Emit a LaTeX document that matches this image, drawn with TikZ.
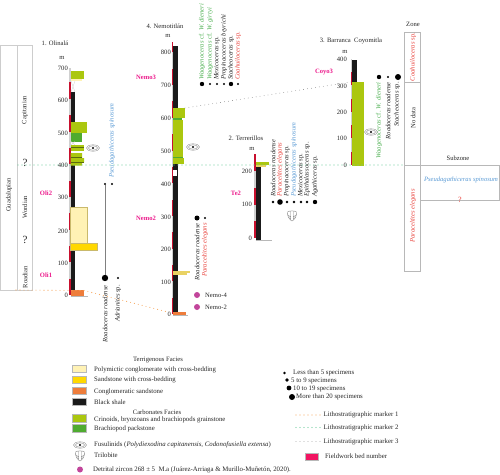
\documentclass[tikz,border=0pt]{standalone}
\usepackage{fontspec}
\setmainfont{Liberation Serif}
\definecolor{olivef}{HTML}{ABC70F}
\definecolor{greenf}{HTML}{4FAB30}
\definecolor{palef}{HTML}{FFF2B5}
\definecolor{yellowf}{HTML}{FFD800}
\definecolor{goldf}{HTML}{E9D263}
\definecolor{orangef}{HTML}{EE7D3B}
\definecolor{blackf}{HTML}{1A1A1A}
\definecolor{redbar}{HTML}{C8102E}
\definecolor{greybar}{HTML}{D0D0D0}
\definecolor{pinkf}{HTML}{EC1C8C}
\definecolor{purplef}{HTML}{C2459B}
\definecolor{bluef}{HTML}{5B9BD5}
\definecolor{greent}{HTML}{4CAF50}
\definecolor{redt}{HTML}{E8403A}
\definecolor{frameg}{HTML}{B8B8B8}
\definecolor{txt}{HTML}{262626}
\definecolor{stripe}{HTML}{5A6A10}
\definecolor{mkone}{HTML}{F6A860}
\definecolor{mktwo}{HTML}{6CCB9C}
\definecolor{mkthree}{HTML}{7A7A7A}
\tikzset{
 lab/.style={inner sep=0pt,font=\fontsize{6.6}{7}\selectfont,text=txt},
 leg/.style={lab,anchor=west,font=\fontsize{6.8}{8}\selectfont},
 tick/.style={lab,anchor=east},
 bed/.style={inner sep=0pt,font=\fontsize{6.6}{7}\selectfont\bfseries,text=pinkf},
 vup/.style={lab,rotate=90,anchor=west,font=\fontsize{6.6}{7}\selectfont\itshape},
 vdn/.style={lab,rotate=90,anchor=east,font=\fontsize{6.6}{7}\selectfont\itshape},
 vmid/.style={lab,rotate=90,anchor=center},
 frame/.style={draw=frameg,line width=.6pt},
 swatch/.style={draw=frameg,line width=.4pt},
 dotm/.style={circle,fill=black,inner sep=0pt},
 zircon/.style={circle,fill=purplef,inner sep=0pt,minimum size=6pt},
 mk1/.style={draw=mkone,line width=1.1pt,line cap=round,dash pattern=on 0pt off 4pt},
 mk2/.style={draw=mktwo,line width=1.1pt,line cap=round,dash pattern=on 0pt off 4pt},
 mk3/.style={draw=mkthree,line width=.8pt,line cap=round,dash pattern=on 0pt off 4pt},
 fusu/.pic={
  \draw[gray,line width=.35pt] (0,0) ellipse (6.5pt and 3.2pt);
  \draw[gray,line width=.35pt] (0,0) ellipse (4.5pt and 2.2pt);
  \fill[black] (0,0) circle (1.1pt);},
 trilo/.pic={
  \draw[gray,line width=.35pt,fill=white] (-4.5,-3) .. controls (-5,2) and (-2,5) .. (0,6) .. controls (2,5) and (5,2) .. (4.5,-3) .. controls (2.5,-4.5) and (-2.5,-4.5) .. (-4.5,-3) -- cycle;
  \draw[gray,line width=.35pt] (-1.3,-4) -- (-1.3,5) (1.3,-4) -- (1.3,5) (-4,0) -- (-1.3,2) (4,0) -- (1.3,2) (-3.5,2.5) -- (-1.3,3.5) (3.5,2.5) -- (1.3,3.5);},
}
% scale bar: x, y of 0 m, px per 100 m, top y
\newcommand{\scalebar}[4]{%
 \fill[greybar] (#1,#2) rectangle (#1+1.6,#4);
 \foreach \k in {0,1,...,8}{
  \pgfmathsetmacro{\ya}{#2-\k*#3}
  \pgfmathsetmacro{\yb}{max(#2-(\k+.5)*#3,#4)}
  \ifdim \ya pt>#4 pt \fill[redbar] (#1,\ya) rectangle (#1+1.6,\yb);\fi
 }}
\begin{document}
\begin{tikzpicture}[x=1pt,y=-1pt]
\useasboundingbox (0,0) rectangle (500,474);

% ---------- chronostratigraphic table
\draw[frame,draw=frameg!70] (0,45) rectangle (17,290);
\draw[frame,draw=frameg!70] (17,45) rectangle (32,290);
\node[vmid] (tGuad) at (9,195) {Guadalupian};
\node[vmid] (tCap) at (25,110) {Capitanian};
\node[vmid] (tWord) at (25,207) {Wordian};
\node[vmid] (tRoad) at (25,277) {Roadian};
\node[lab,font=\fontsize{11}{12}\selectfont] (tq1) at (25,163) {?};
\node[lab,font=\fontsize{11}{12}\selectfont] (tq2) at (25,240) {?};

% ---------- 1. Olinala
\node[lab] (t1) at (55,43) {1. Olinalá};
\node[lab] (m1) at (62,58) {m};
\scalebar{69}{295}{32.7}{68}
\fill[blackf] (70.6,92) rectangle (75,290);
\draw[greybar,line width=.3pt] (71,81) -- (75,92) (75,81) -- (71,92);
\fill[olivef] (70.6,71) rectangle (84,79);
\fill[palef] (70.6,79) rectangle (82,81);
\fill[olivef] (70.6,122) rectangle (86.5,133);
\fill[greenf] (70.6,133) rectangle (82,141.5);
\fill[white] (70.6,141.5) rectangle (82,145);
\draw[greybar,line width=.3pt] (71,141.5) -- (75,145) (75,141.5) -- (71,145);
\fill[olivef] (70.6,145) rectangle (84,151);
\fill[white] (70.6,151) rectangle (84,153);
\fill[olivef] (70.6,153) rectangle (82,158) (70.6,158) rectangle (84,162) (70.6,162) rectangle (82,165.5);
\draw[stripe,line width=.4pt] (70.6,147.5) -- (84,147.5) (70.6,157.5) -- (82,157.5) (70.6,162) -- (84,162);
\filldraw[fill=palef,draw=goldf!70!gray,line width=.4pt] (70.6,207) rectangle (87,243);
\filldraw[fill=yellowf,draw=goldf!70!gray,line width=.4pt] (70.6,243) rectangle (97,250);
\fill[orangef] (70.6,290) rectangle (84,296);
\draw[frameg,line width=.7pt] (70.6,296.5) -- (88,296.5);
\foreach \v/\y in {700/68,600/100,500/133,400/165,300/197,200/231,100/263,0/295}
 \node[tick] (a\v) at (68,\y) {\v};
\node[bed] (oli2) at (46,193) {Oli2};
\node[bed] (oli1) at (46,275) {Oli1};
\pic at (93,148) {fusu};
\node[dotm,minimum size=2.4pt] (d1a) at (105,184) {};
\node[dotm,minimum size=2.4pt] (d1b) at (112,184) {};
\node[dotm,minimum size=6.4pt] (d1c) at (105,278) {};
\node[dotm,minimum size=2.4pt] (d1d) at (118,278) {};
\draw[gray,line width=.7pt] (d1a) -- (d1c);
\node[vdn] (s1a) at (105,285) {Roadoceras roadense};
\node[vdn] (s1b) at (118,285) {Adrianites \textup{sp.}};
\node[vup,text=bluef] (s1c) at (112,178) {Pseudagathiceras spinosum};

% ---------- 4. Nemotitlan
\node[lab] (t4) at (165,26) {4. Nemotitlán};
\node[lab] (m4) at (168,36) {m};
\scalebar{171.6}{314}{32.7}{42}
\fill[blackf] (173.2,46) rectangle (177.5,314);
\fill[olivef] (173.2,108) rectangle (185,118);
\fill[greenf] (173.2,118) rectangle (182,120);
\fill[olivef] (173.2,120) rectangle (183,157);
\fill[greenf] (173.2,157) rectangle (183,158);
\fill[olivef] (173.2,158) rectangle (184,164);
\fill[white] (173.4,170) rectangle (177.3,176);
\fill[goldf] (173.2,271) rectangle (190,273);
\fill[goldf] (173.2,273) rectangle (187,275);
\fill[orangef] (173.2,312) rectangle (186,315);
\draw[frameg,line width=.7pt] (173.2,315.5) -- (188,315.5);
\foreach \v/\y in {800/52,700/85,600/118,500/151,400/184,300/217,200/249,100/282,0/314}
 \node[tick] (b\v) at (171,\y) {\v};
\node[bed] (nemo3) at (146,77) {Nemo3};
\node[bed] (nemo2) at (146,218) {Nemo2};
\pic at (193,147) {fusu};
\foreach \n/\x/\s in {a/202/4.4,b/210/2.4,c/217/2.4,d/224/2.4,e/231/4.4,f/238/2.4}
 \node[dotm,minimum size=\s pt] (d4\n) at (\x,84) {};
\node[vup,text=greent] (s4a) at (202,80) {Waagenoceras \textup{cf.} W. dieneri};
\node[vup,text=greent] (s4b) at (210,80) {Waagenoceras \textup{cf.} W. girtyi};
\node[vup] (s4c) at (217,80) {Mexicoceras \textup{sp.}};
\node[vup] (s4d) at (224,80) {Propinacoceras beyrichi};
\node[vup] (s4e) at (231,80) {Stacheoceras \textup{sp.}};
\node[vup,text=redt] (s4f) at (238,80) {Coahuiloceras \textup{sp.}};
\node[dotm,minimum size=5pt] (d4g) at (197,218) {};
\node[dotm,minimum size=2.4pt] (d4h) at (205,218) {};
\node[vdn] (s4g) at (197,223) {Roadoceras roadense};
\node[vdn,text=redt] (s4h) at (205,223) {Paraceltites elegans};
\node[zircon] (z4) at (197,295) {};
\node[zircon] (z2) at (197,307) {};
\node[lab,anchor=west] (z4t) at (205,295) {Nemo-4};
\node[lab,anchor=west] (z2t) at (205,307) {Nemo-2};

% ---------- 2. Terrerillos
\node[lab] (t2) at (246,138) {2. Terrerillos};
\node[lab] (m2) at (252,149) {m};
\scalebar{254}{238}{33.5}{154}
\fill[blackf] (255.6,167) rectangle (261,240);
\fill[olivef] (255.6,162) rectangle (269,165);
\fill[goldf] (255.6,165) rectangle (266,167);
\draw[frameg,line width=.7pt] (255.6,240) -- (272,240);
\foreach \v/\y in {200/171,100/204,0/238}
 \node[tick] (c\v) at (252,\y) {\v};
\node[bed] (te2) at (236,193) {Te2};
\foreach \n/\x/\s in {a/273/2.6,b/280/5.6,c/287/2.6,d/294/2.6,e/301/2.6,f/307/2.6,g/315/4.4}
 \node[dotm,minimum size=\s pt] (d2\n) at (\x,202) {};
\node[vup] (s2a) at (273,197) {Roadoceras roadense};
\node[vup,text=redt] (s2b) at (280,197) {Paraceltites elegans};
\node[vup] (s2c) at (287,197) {Propinacoceras \textup{sp.}};
\node[vup,text=bluef] (s2d) at (294,197) {Pseudagathiceras spinosum};
\node[vup] (s2e) at (301,197) {Mexicoceras \textup{sp.}};
\node[vup] (s2f) at (307,197) {Epithalassoceras \textup{sp.}};
\node[vup] (s2g) at (315,197) {Agathiceras \textup{sp.}};
\pic at (292,215) {trilo};

% ---------- 3. Barranca Coyomitla
\node[lab] (t3) at (351,41) {3. Barranca\ \ Coyomitla};
\node[lab] (m3) at (345,52) {m};
\scalebar{350.6}{165}{26.6}{59}
\fill[blackf] (352.2,60) rectangle (356.6,82);
\fill[olivef] (352.2,82) rectangle (364,166);
\foreach \v/\y in {400/59,300/86,200/112,100/138,0/165}
 \node[tick] (e\v) at (347,\y) {\v};
\node[bed] (coyo3) at (324,72) {Coyo3};
\pic at (371,132) {fusu};
\node[dotm,minimum size=4.4pt] (d3a) at (379,77) {};
\node[dotm,minimum size=2.2pt] (d3b) at (388,77) {};
\node[dotm,minimum size=6pt] (d3c) at (398,77) {};
\node[vdn,text=greent] (s3a) at (379,82) {Waagenoceras \textup{cf.} W. dieneri};
\node[vdn] (s3b) at (388,82) {Roadoceras roadense};
\node[vdn] (s3c) at (397,82) {Stacheoceras \textup{sp.}};

% ---------- zone table
\node[lab] (zt) at (413,24) {Zone};
\draw[frame] (404,32) rectangle (420,271);
\draw[frame] (404,82) coordinate (zl1) -- (420,82);
\draw[frame] (404,165) coordinate (zl2) -- (420,165);
\node[vmid,font=\fontsize{6.6}{7}\selectfont\itshape,text=redt] (zc) at (413,57) {Coahuiloceras \textup{sp.}};
\node[vmid] (zn) at (413,118) {No data};
\node[vmid,font=\fontsize{6.6}{7}\selectfont\itshape,text=redt] (zp) at (413,216) {Paraceltites elegans};
\node[lab] (szt) at (458,158) {Subzone};
\draw[frame] (420,165) -- (500,165) (420,200) -- (500,200) (499.7,165) -- (499.7,200);
\node[lab,font=\fontsize{6.6}{7}\selectfont\itshape,text=bluef] (szp) at (461,180) {Pseudagathiceras spinosum};
\node[lab,text=redt,font=\fontsize{8}{9}\selectfont] (szq) at (460,200) {?};

% ---------- lithostratigraphic markers
\coordinate (m1a) at (16,290); \coordinate (m1b) at (84,290.5); \coordinate (m1c) at (168,312);
\coordinate (m2a) at (18,165); \coordinate (m2b) at (404,165);
\coordinate (m3a) at (185,108); \coordinate (m3b) at (351,82);
\draw[mk1] (m1a) -- (m1b) -- (m1c);
\draw[mk2] (m2a) -- (m2b);
\draw[mk3] (m3a) -- (m3b);

% ---------- legend, left
\node[lab] (l0) at (158,360) {Terrigenous Facies};
\node[lab] (l00) at (157,412) {Carbonates Facies};
\foreach \n/\c/\ya/\yb/\yt/\t in {
 1/palef/365/372/370/Polymictic conglomerate with cross-bedding,
 2/yellowf/376/383/380/Sandstone with cross-bedding,
 3/orangef/387/394/392/Conglomeratic sandstone,
 4/blackf/398/405/402/Black shale,
 5/olivef/414/422/420/{Crinoids, bryozoans and brachiopods grainstone},
 6/greenf/424/432/429/Brachiopod packstone}{
 \filldraw[swatch,fill=\c] (72,\ya) rectangle (86,\yb);
 \node[leg] (lt\n) at (94,\yt) {\t};
}
\pic at (80,445) {fusu};
\node[leg] (lf) at (94,445) {Fusulinids (\textit{Polydiexodina capitanensis, Codonofusiella extensa})};
\pic at (80,455) {trilo};
\node[leg] (ltr) at (94,455) {Trilobite};
\node[zircon] (lz) at (80,469.5) {};
\node[leg] (lzt) at (93,470) {Detrital zircon 268 ± 5\ \ M.a (Juárez-Arriaga \& Murillo-Muñetón, 2020).};

% ---------- legend, right
\node[dotm,minimum size=2.6pt] (r1) at (284.5,373) {};
\node[leg] (r1t) at (293,373) {Less than 5 specimens};
\node[dotm,minimum size=3.6pt] (r2) at (287,380) {};
\node[leg] (r2t) at (291,381) {5 to 9 specimens};
\node[dotm,minimum size=4.8pt] (r3) at (289,388) {};
\node[leg] (r3t) at (293,389) {10 to 19 specimens};
\node[dotm,minimum size=6pt] (r4) at (292,397) {};
\node[leg] (r4t) at (296,397) {More than 20 specimens};
\foreach \n/\y/\s in {1/415/mk1,2/427.5/mk2,3/441.5/mk3}{
 \node[leg] (mt\n) at (323.5,\y) {Lithostratigraphic marker \n};
 \coordinate (ml\n) at (296,\y);
 \draw[\s] (ml\n) -- (mt\n.west);
}
\filldraw[draw=frameg,line width=.3pt,fill=pinkf!70!red] (305,453) rectangle (318.5,460.5);
\node[leg] (fw) at (325,456.5) {Fieldwork bed number};
\end{tikzpicture}
\end{document}
